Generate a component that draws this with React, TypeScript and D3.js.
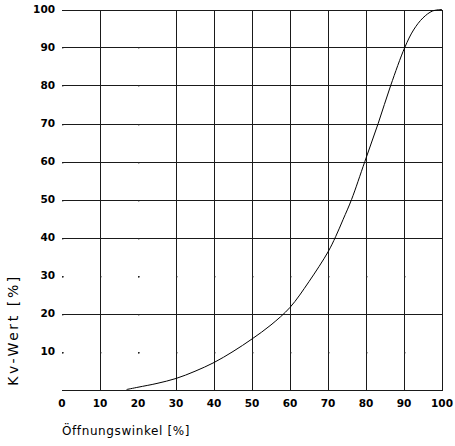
import React, { useRef, useEffect } from "react";
import * as d3 from "d3";

// Kv-Wert curve
const angle = [17, 20, 25, 30, 35, 40, 45, 50, 55, 60, 65, 70, 72, 74, 76.2, 79.7, 83.2, 86.5, 90.2, 92.5, 95, 97.5, 100];
const kv = [0, 0.6, 1.6, 2.9, 4.8, 7.1, 10, 13.3, 17, 21.6, 28.4, 36.2, 40.2, 44.8, 50, 60, 70, 80, 90, 94.6, 97.8, 99.6, 100];

const xTicks = [0, 10, 20, 30, 40, 50, 60, 70, 80, 90, 100];
const yTicks = [10, 20, 30, 40, 50, 60, 70, 80, 90, 100];
const gridValues = [0, 10, 20, 30, 40, 50, 60, 70, 80, 90, 100];
// grid lines that the original only shows as dots
const missingX = [0, 20];
const missingY = [10, 30];

const W = 455;
const H = 446;
const FONT = "'DejaVu Sans', sans-serif";

export default function App() {
  const svgRef = useRef<SVGSVGElement | null>(null);

  useEffect(() => {
    document.body.style.margin = "0";
    if (!svgRef.current) return;
    const svg = d3.select(svgRef.current);
    svg.selectAll("*").remove();

    const x = d3.scaleLinear().domain([0, 100]).range([62, 442]);
    const y = d3.scaleLinear().domain([0, 100]).range([389.5, 9.5]);

    svg.append("rect").attr("width", W).attr("height", H).attr("fill", "#fff");

    const grid = svg.append("g").attr("stroke", "#1a1a1a").attr("stroke-width", 1).attr("shape-rendering", "crispEdges");

    // vertical grid
    grid
      .selectAll("line.v")
      .data(gridValues.filter((v) => !missingX.includes(v)))
      .join("line")
      .attr("class", "v")
      .attr("x1", (d) => Math.round(x(d)) + 0.5)
      .attr("x2", (d) => Math.round(x(d)) + 0.5)
      .attr("y1", y(100))
      .attr("y2", y(0));

    // horizontal grid
    grid
      .selectAll("line.h")
      .data(gridValues.filter((v) => !missingY.includes(v)))
      .join("line")
      .attr("class", "h")
      .attr("x1", x(0))
      .attr("x2", x(100) + 1)
      .attr("y1", (d) => Math.round(y(d)) + 0.5)
      .attr("y2", (d) => Math.round(y(d)) + 0.5);

    // dots where the missing lines cross
    const dots: [number, number][] = [];
    missingX.forEach((mx) => gridValues.forEach((gy) => dots.push([mx, gy])));
    missingY.forEach((my) => gridValues.forEach((gx) => dots.push([gx, my])));
    svg
      .append("g")
      .selectAll("rect")
      .data(dots.filter(([a, b]) => b > 0 && b < 100 && a < 100))
      .join("rect")
      .attr("x", (d) => Math.round(x(d[0])))
      .attr("y", (d) => Math.round(y(d[1])))
      .attr("width", 1.4)
      .attr("height", 1.4)
      .attr("fill", "#222");

    // curve
    const pts: [number, number][] = angle.map((a, i) => [a, kv[i]]);
    const line = d3
      .line<[number, number]>()
      .x((d) => x(d[0]))
      .y((d) => y(d[1]))
      .curve(d3.curveCatmullRom.alpha(0.5));
    svg
      .append("path")
      .datum(pts)
      .attr("fill", "none")
      .attr("stroke", "#000")
      .attr("stroke-width", 1)
      .attr("d", line);

    // y tick labels
    svg
      .append("g")
      .selectAll("text")
      .data(yTicks)
      .join("text")
      .attr("x", 55)
      .attr("y", (d) => y(d))
      .attr("dy", "0.36em")
      .attr("text-anchor", "end")
      .attr("font-family", FONT)
      .attr("font-weight", "bold")
      .attr("font-size", 10.5)
      .attr("fill", "#000")
      .text((d) => d);

    // x tick labels
    svg
      .append("g")
      .selectAll("text")
      .data(xTicks)
      .join("text")
      .attr("x", (d) => x(d))
      .attr("y", 407)
      .attr("text-anchor", "middle")
      .attr("font-family", FONT)
      .attr("font-weight", "bold")
      .attr("font-size", 10.5)
      .attr("fill", "#000")
      .text((d) => d);

    // axis titles
    svg
      .append("text")
      .attr("x", 62)
      .attr("y", 435)
      .attr("font-family", FONT)
      .attr("font-size", 12)
      .attr("letter-spacing", 0.6)
      .attr("fill", "#000")
      .text("Öffnungswinkel [%]");

    svg
      .append("text")
      .attr("transform", "translate(18,330) rotate(-90)")
      .attr("text-anchor", "middle")
      .attr("font-family", FONT)
      .attr("font-size", 14)
      .attr("letter-spacing", 2.6)
      .attr("fill", "#000")
      .text("Kv-Wert [%]");
  }, []);

  return <svg ref={svgRef} width={W} height={H} style={{ display: "block" }} />;
}
